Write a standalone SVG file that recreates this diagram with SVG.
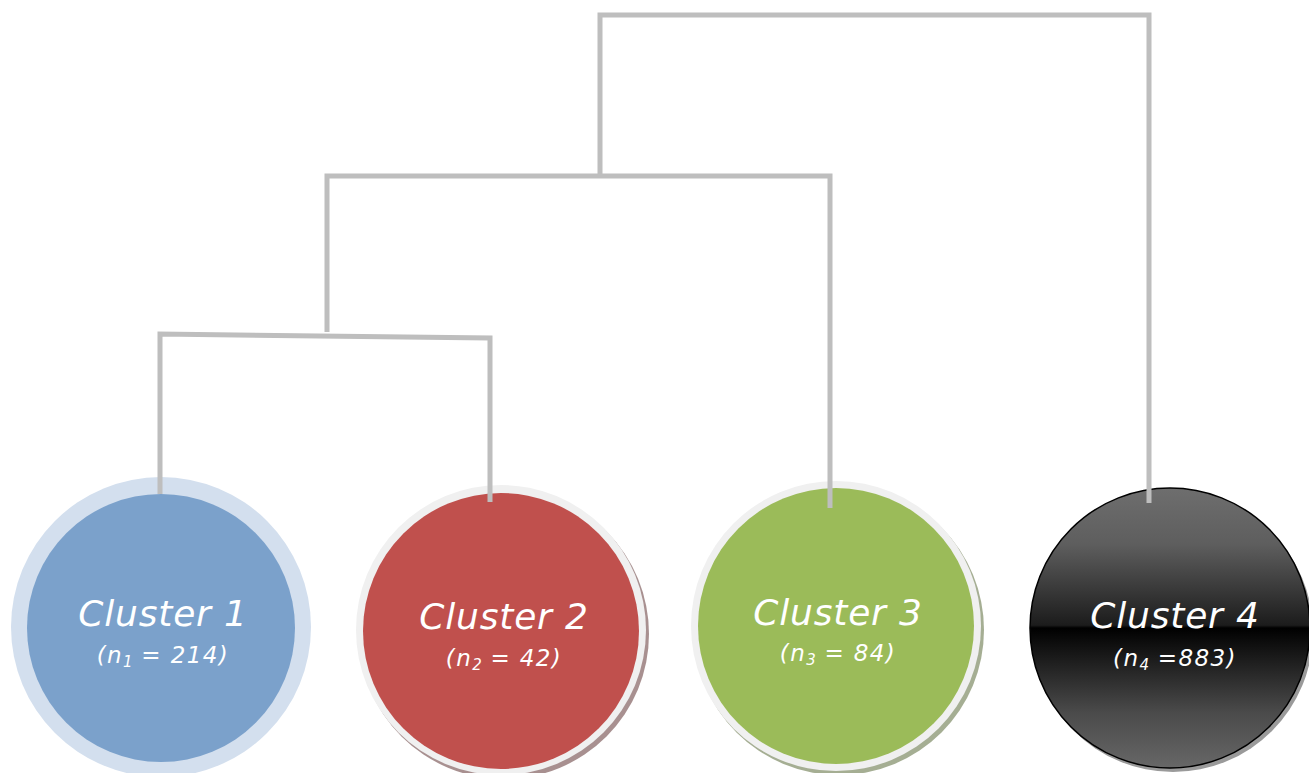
<svg xmlns="http://www.w3.org/2000/svg" width="1309" height="773" viewBox="0 0 1309 773">
  <style>
    .conn { fill: none; stroke: #BEBEBE; stroke-width: 5; stroke-linecap: butt; stroke-linejoin: miter; }
    .title { font-family: "DejaVu Sans", Verdana, sans-serif; font-style: italic; font-size: 36px; letter-spacing: 0.8px; fill: #FFFFFF; text-anchor: middle; }
    .sub { font-family: "DejaVu Sans", Verdana, sans-serif; font-style: italic; font-size: 23px; letter-spacing: 1.4px; fill: #FFFFFF; text-anchor: middle; }
    .idx { font-size: 15px; letter-spacing: 0; }
  </style>
  <defs>
    <linearGradient id="glass" x1="0" y1="0" x2="0" y2="1">
      <stop offset="0" stop-color="#6e6e6e"/>
      <stop offset="0.2" stop-color="#5e5e5e"/>
      <stop offset="0.49" stop-color="#1c1c1c"/>
      <stop offset="0.5" stop-color="#000000"/>
      <stop offset="0.53" stop-color="#080808"/>
      <stop offset="0.8" stop-color="#4a4a4a"/>
      <stop offset="1" stop-color="#676767"/>
    </linearGradient>
  </defs>
  <rect width="1309" height="773" fill="#FFFFFF"/>

  <g id="cluster1">
    <circle cx="161" cy="627" r="150" fill="#D3DFEE"/>
    <circle cx="161" cy="628" r="134" fill="#7BA1CB"/>
    <text class="title" x="163" y="626">Cluster 1</text>
    <text class="sub" x="163" y="663">(n<tspan class="idx" dy="4">1</tspan><tspan dy="-4"> = 214)</tspan></text>
  </g>

  <g id="cluster2">
    <circle cx="504" cy="634" r="145" fill="#A89090"/>
    <circle cx="501" cy="630" r="145" fill="#F0F0F0"/>
    <circle cx="501" cy="631" r="138" fill="#C0504D"/>
    <text class="title" x="504" y="629">Cluster 2</text>
    <text class="sub" x="504" y="666">(n<tspan class="idx" dy="4">2</tspan><tspan dy="-4"> = 42)</tspan></text>
  </g>

  <g id="cluster3">
    <circle cx="839" cy="630" r="145" fill="#A5AE93"/>
    <circle cx="836" cy="626" r="145" fill="#F0F0F0"/>
    <circle cx="836" cy="626" r="138" fill="#9BBB59"/>
    <text class="title" x="838" y="625">Cluster 3</text>
    <text class="sub" x="838" y="661">(n<tspan class="idx" dy="4">3</tspan><tspan dy="-4"> = 84)</tspan></text>
  </g>

  <g id="cluster4">
    <circle cx="1173" cy="632" r="140" fill="#9A9A9A"/>
    <circle cx="1170" cy="628" r="140" fill="url(#glass)" stroke="#000000" stroke-width="1.5"/>
    <text class="title" x="1175" y="628">Cluster 4</text>
    <text class="sub" x="1175" y="666">(n<tspan class="idx" dy="4">4</tspan><tspan dy="-4"> =883)</tspan></text>
  </g>

  <g id="connectors">
    <path class="conn" d="M600 175 V15 H1149 V503"/>
    <path class="conn" d="M327 332 V176 H830 V508"/>
    <path class="conn" d="M160 494 V334 L490 338 V502"/>
  </g>
</svg>
